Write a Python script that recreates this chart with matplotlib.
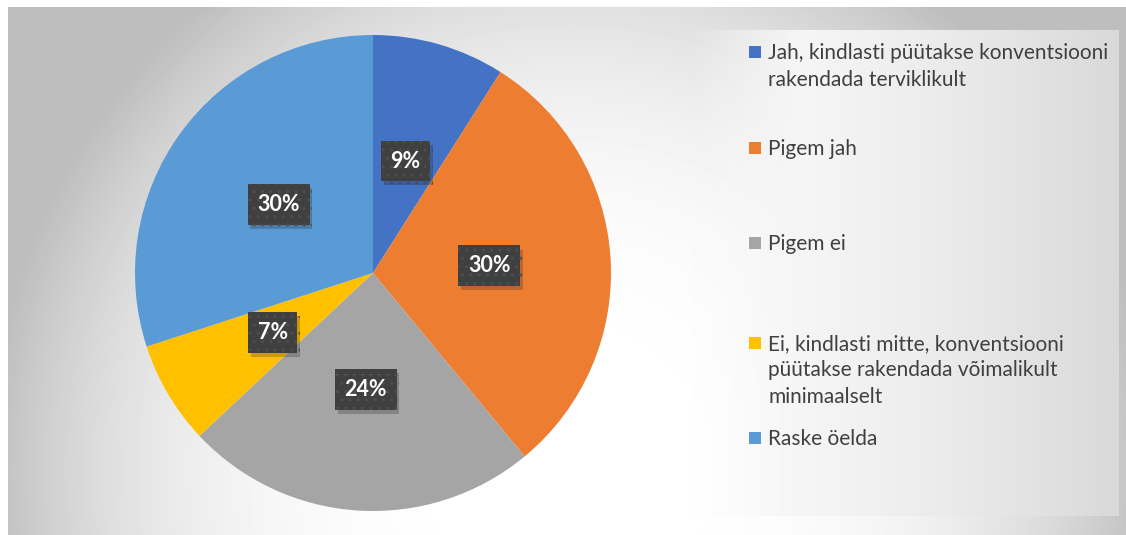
import numpy as np
import matplotlib
matplotlib.use('Agg')
import matplotlib.pyplot as plt
from matplotlib import patheffects
from matplotlib.patches import Rectangle

# data
categories = ['Jah, kindlasti püütakse konventsiooni\nrakendada terviklikult',
              'Pigem jah',
              'Pigem ei',
              'Ei, kindlasti mitte, konventsiooni\npüütakse rakendada võimalikult\nminimaalselt',
              'Raske öelda']
shares = [9, 30, 24, 7, 30]
colors = ['#4472C4', '#ED7D31', '#A5A5A5', '#FFC000', '#5B9BD5']

W, H = 1126, 535
fig = plt.figure(figsize=(W / 100, H / 100), dpi=100)

# background in pixel coordinates
bg = fig.add_axes([0, 0, 1, 1])
bg.set_axis_off()

yy, xx = np.mgrid[7:H, 8:W]
d = np.hypot((xx - 570) / 560.0, (yy - 470) / 575.0)
shade = np.clip(255 - 58 * d ** 3, 190, 255) / 255.0
bg.imshow(shade, cmap='gray', vmin=0, vmax=1, extent=(8, W, H, 7),
          aspect='auto', interpolation='bilinear')

# legend panel, lighter, fading in from the left
lx0, lx1, ly0, ly1 = 690, 1119, 30, 516
gx = np.linspace(0, 1, lx1 - lx0)
panel = np.zeros((ly1 - ly0, lx1 - lx0, 4))
grey = (250 - 33 * gx ** 1.5) / 255.0
panel[..., 0] = grey
panel[..., 1] = grey
panel[..., 2] = grey
panel[..., 3] = np.clip(gx * 4, 0, 1)
bg.imshow(panel, extent=(lx0, lx1, ly1, ly0), aspect='auto')
bg.set_xlim(0, W)
bg.set_ylim(H, 0)

# pie
cx, cy, r = 373, 273, 238
ax = fig.add_axes([(cx - r) / W, (H - cy - r) / H, 2 * r / W, 2 * r / H])
wedges, texts, autotexts = ax.pie(shares, colors=colors, startangle=90,
                                  counterclock=False, autopct='%1.0f%%',
                                  pctdistance=0.49,
                                  wedgeprops=dict(linewidth=0))
ax.set_xlim(-1, 1)
ax.set_ylim(-1, 1)
ax.set_axis_off()

for t in autotexts:
    t.set_color('white')
    t.set_fontsize(15.5)
    t.set_fontweight('bold')
    t.set_fontfamily('Lato')
    t.set_bbox(dict(boxstyle='square,pad=0.45', facecolor='#404040',
                    edgecolor='#4e4e4e', linewidth=0, hatch='..'))
    t.get_bbox_patch().set_path_effects([
        patheffects.SimplePatchShadow(offset=(2, -3), alpha=0.22),
        patheffects.Normal()])

# legend
legend_y = [52, 148, 243, 343, 438]
for label, col, y in zip(categories, colors, legend_y):
    bg.add_patch(Rectangle((749, y - 6), 12, 12, facecolor=col, edgecolor='none'))
    for i, line in enumerate(label.split('\n')):
        bg.text(768, y + 7 + i * 26.5, line, fontsize=15, family='Lato',
                color='#404040', va='baseline', ha='left')

fig.savefig('out.png', dpi=100)
